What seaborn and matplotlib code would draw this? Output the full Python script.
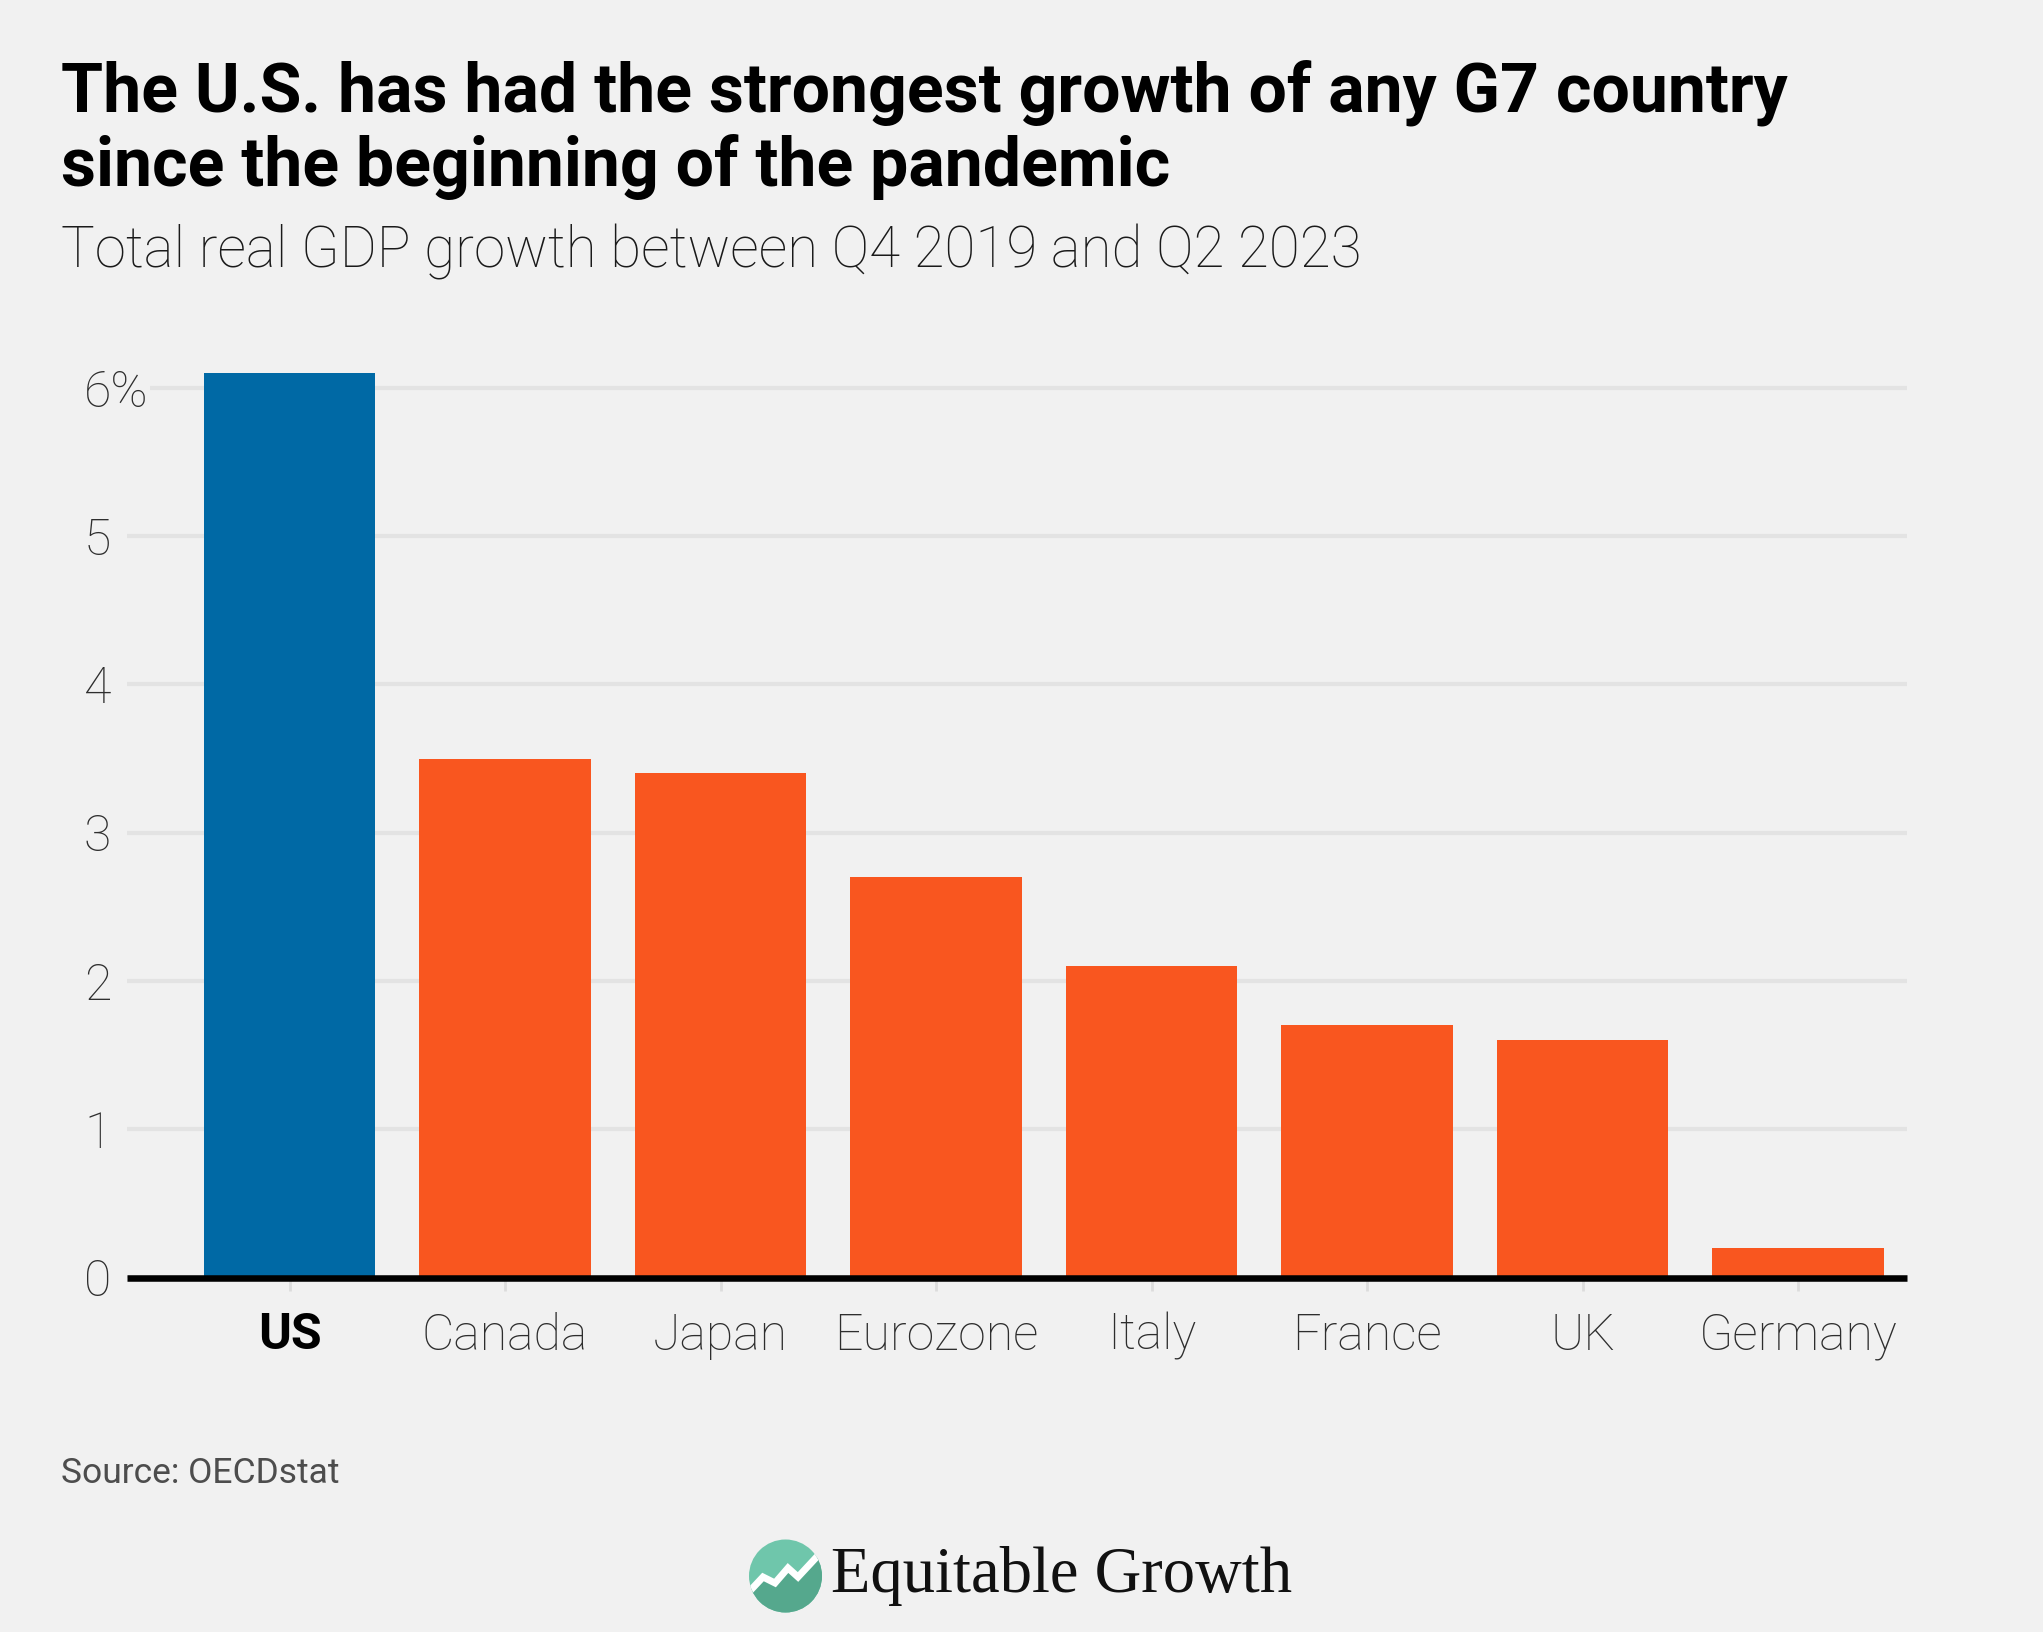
import numpy as np
import pandas as pd
import matplotlib
matplotlib.use('Agg')
import matplotlib.pyplot as plt
from matplotlib.patches import Circle, Polygon
import seaborn as sns

countries = ['US', 'Canada', 'Japan', 'Eurozone', 'Italy', 'France', 'UK', 'Germany']
growth = [6.1, 3.5, 3.4, 2.7, 2.1, 1.7, 1.6, 0.2]
bar_colors = ['#0069a5'] + ['#f9561f'] * 7
yticks = [0, 1, 2, 3, 4, 5, 6]
ytick_labels = ['0', '1', '2', '3', '4', '5', '6%']

BG = '#f1f1f1'
W, H = 2043, 1632

sns.set_theme(style='white')
plt.rcParams['font.family'] = ['Roboto', 'Liberation Sans', 'DejaVu Sans']

df = pd.DataFrame({'country': countries, 'growth': growth})

fig = plt.figure(figsize=(W / 100, H / 100), dpi=100, facecolor=BG)
ax = fig.add_axes([127 / W, 1 - 1277.5 / H, (1907 - 127) / W, (1277.5 - 373) / H], facecolor=BG)

sns.barplot(data=df, x='country', y='growth', hue='country', palette=bar_colors,
            order=countries, width=0.796, dodge=False, legend=False, saturation=1,
            linewidth=0, ax=ax, zorder=3)

ax.set_xlim(-0.754, 7.505)
ax.set_ylim(0, 6.1)
ax.set_xlabel('')
ax.set_ylabel('')
ax.set_yticks(yticks)
ax.set_yticklabels(ytick_labels)
ax.grid(axis='y', color='#e3e3e3', linewidth=3)
ax.set_axisbelow(True)
for s in ['top', 'right', 'left']:
    ax.spines[s].set_visible(False)
ax.spines['bottom'].set_linewidth(4.7)
ax.spines['bottom'].set_color('black')
ax.spines['bottom'].set_capstyle('butt')
ax.spines['bottom'].set_zorder(5)

ax.tick_params(axis='y', length=0, pad=31, labelsize=36, labelcolor='#2e2e2e')
ax.tick_params(axis='x', length=9, width=2, color='#dcdcdc', direction='out', pad=16,
               labelsize=36, labelcolor='#2e2e2e', bottom=True)
for lab in ax.get_yticklabels():
    lab.set_ha('left')
    lab.set_fontweight('light')
    lab.set_bbox(dict(facecolor=BG, edgecolor='none', pad=1))
for lab in ax.get_xticklabels():
    lab.set_fontweight('light')
us = ax.get_xticklabels()[0]
us.set_fontweight('bold')
us.set_color('black')

# overlay in pixel coords for the header, source and logo
ov = fig.add_axes([0, 0, 1, 1], facecolor='none')
ov.set_xlim(0, W)
ov.set_ylim(H, 0)
ov.axis('off')

ov.text(61, 111, 'The U.S. has had the strongest growth of any G7 country', fontsize=49,
        fontweight='bold', color='black', va='baseline')
ov.text(61, 186, 'since the beginning of the pandemic', fontsize=49,
        fontweight='bold', color='black', va='baseline')
ov.text(61, 267, 'Total real GDP growth between Q4 2019 and Q2 2023', fontsize=40.7,
        color='#1a1a1a', fontweight='light', va='baseline')
ov.text(61, 1483, 'Source: OECDstat', fontsize=25.5, color='#4d4d4d', va='baseline')

# logo
cx, cy, r = 785.5, 1576, 36.5
top = Circle((cx, cy), r, facecolor='#6fc6ab', edgecolor='none')
ov.add_patch(top)
zig = [(748, 1593), (763, 1577), (775, 1583), (788, 1568), (798, 1577), (825, 1548)]
low = Polygon(zig + [(825, 1620), (748, 1620)], closed=True, facecolor='#55a88d', edgecolor='none')
ov.add_patch(low)
low.set_clip_path(top)
line, = ov.plot(*zip(*zig), color='white', lw=5, solid_joinstyle='miter')
line.set_clip_path(top)
ov.text(831, 1592, 'Equitable Growth', fontsize=46.5, family='Liberation Serif',
        color='#111111', va='baseline')

fig.savefig('out.png', dpi=100, facecolor=BG)
